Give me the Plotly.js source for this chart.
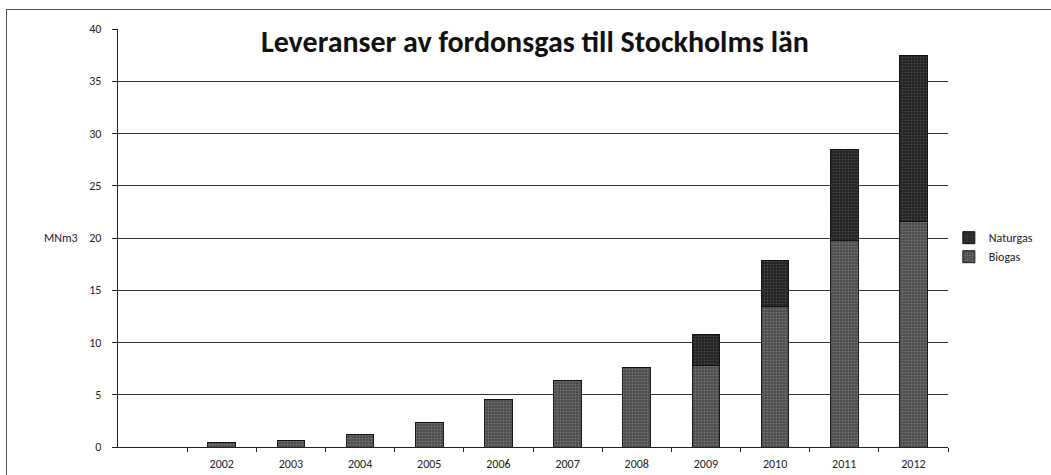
<!DOCTYPE html>
<html>
<head>
<meta charset="utf-8">
<script src="https://cdn.plot.ly/plotly-3.0.1.min.js"></script>
<style>
  html, body { margin: 0; padding: 0; background: #ffffff; }
  #wrap { position: relative; width: 1051px; height: 475px; overflow: hidden; }
  #frame { position: absolute; left: 6px; top: 9px; width: 1100px; height: 500px;
           border-left: 1.5px solid #555; border-top: 1.5px solid #555; pointer-events: none; }
  #chart { position: absolute; left: 0; top: 0; width: 1051px; height: 475px; }
</style>
</head>
<body>
<div id="wrap">
  <div id="chart"></div>
  <div id="frame"></div>
</div>
<script>
const years = ['2002','2003','2004','2005','2006','2007','2008','2009','2010','2011','2012'];
const biogas   = [0.4, 0.6, 1.2, 2.3, 4.5, 6.4, 7.6, 7.8, 13.4, 19.8, 21.6];
const naturgas = [0.0, 0.0, 0.0, 0.0, 0.0, 0.0, 0.0, 3.0, 4.4, 8.7, 15.9];
const seriesNames = ['Biogas', 'Naturgas'];
const chartTitle = 'Leveranser av fordonsgas till Stockholms län';
const yLabel = 'MNm3';

const font = "Carlito, Calibri, 'Open Sans', 'Liberation Sans', sans-serif";

const traces = [
  {
    type: 'bar', name: seriesNames[0], x: years, y: biogas,
    marker: { color: '#555555', line: { color: '#1a1a1a', width: 1 },
              pattern: { shape: '.', bgcolor: '#4e4e4e', fgcolor: '#a8a8a8', size: 3, solidity: 0.25, fillmode: 'overlay' } }
  },
  {
    type: 'bar', name: seriesNames[1], x: years, y: naturgas,
    marker: { color: '#2a2a2a', line: { color: '#111111', width: 1 },
              pattern: { shape: '.', bgcolor: '#262626', fgcolor: '#7a7a7a', size: 3, solidity: 0.2, fillmode: 'overlay' } }
  }
];

const layout = {
  width: 1051, height: 475,
  margin: { l: 118, r: 103, t: 29, b: 28 },
  paper_bgcolor: '#ffffff', plot_bgcolor: '#ffffff',
  barmode: 'stack', bargap: 0.6,
  showlegend: true,
  legend: { x: 1.001, xanchor: 'left', y: 0.478, yanchor: 'middle', traceorder: 'reversed',
            font: { family: font, size: 12, color: '#222' }, bgcolor: 'rgba(0,0,0,0)', itemwidth: 30, tracegroupgap: 0 },
  title: { text: '<b>' + chartTitle + '</b>', x: 0.509, xanchor: 'center', xref: 'container',
           y: 0.912, yanchor: 'middle', yref: 'container',
           font: { family: font, size: 30, color: '#111' } },
  xaxis: {
    type: 'category', categoryorder: 'array', categoryarray: years,
    range: [-1.5, 10.5], tickson: 'boundaries',
    ticks: 'outside', ticklen: 4, tickcolor: '#222',
    showline: true, linecolor: '#222', linewidth: 1.3,
    showgrid: false, zeroline: false, ticklabelstandoff: 5,
    tickfont: { family: font, size: 12, color: '#222' }
  },
  yaxis: {
    range: [0, 40], dtick: 5, tick0: 0,
    ticks: 'outside', ticklen: 5, tickcolor: '#222',
    showline: true, linecolor: '#222', linewidth: 1.3,
    showgrid: true, gridcolor: '#333333', gridwidth: 1,
    zeroline: false, ticklabelstandoff: 8,
    tickfont: { family: font, size: 12, color: '#222' }
  },
  annotations: [
    { text: yLabel, xref: 'paper', yref: 'y', x: -0.046, y: 20, xanchor: 'right', yanchor: 'middle',
      showarrow: false, font: { family: font, size: 12, color: '#222' } }
  ]
};

Plotly.newPlot('chart', traces, layout, { displayModeBar: false, staticPlot: true });
</script>
</body>
</html>
